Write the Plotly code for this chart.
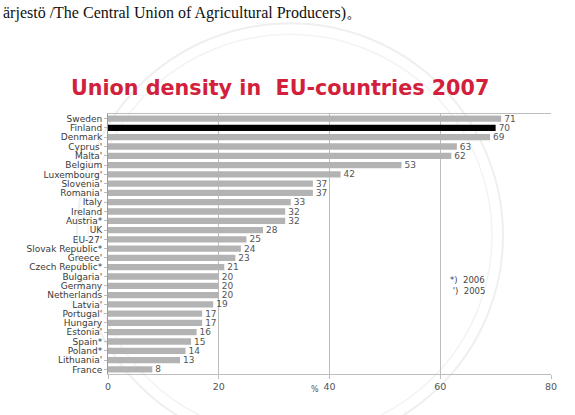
import plotly.graph_objects as go

countries = ["Sweden", "Finland", "Denmark", "Cyprus'", "Malta'", "Belgium", "Luxembourg'",
             "Slovenia'", "Romania'", "Italy", "Ireland", "Austria*", "UK", "EU-27'",
             "Slovak Republic*", "Greece'", "Czech Republic*", "Bulgaria'", "Germany",
             "Netherlands", "Latvia'", "Portugal'", "Hungary", "Estonia'", "Spain*",
             "Poland*", "Lithuania'", "France"]
density = [71, 70, 69, 63, 62, 53, 42, 37, 37, 33, 32, 32, 28, 25, 24, 23, 21, 20, 20, 20,
           19, 17, 17, 16, 15, 14, 13, 8]
highlight = "Finland"
x_ticks = [0, 20, 40, 60, 80]

colors = ["#000000" if c == highlight else "#b3b3b3" for c in countries]

fig = go.Figure(go.Bar(
    x=density, y=countries, orientation="h",
    marker=dict(color=colors, line=dict(width=0)),
    width=0.68,
    text=[str(v) for v in density], textposition="outside",
    constraintext="none",
    textfont=dict(family="DejaVu Sans", size=9, color="#555555"),
    cliponaxis=False,
))

fig.update_layout(
    width=575, height=415,
    margin=dict(l=108, r=24, t=114, b=41),
    paper_bgcolor="white", plot_bgcolor="white",
    showlegend=False,
    bargap=0.3,
    font=dict(family="DejaVu Sans", size=9, color="#444444"),
    xaxis=dict(range=[0, 80], tickvals=x_ticks, showgrid=True, gridcolor="#bdbdbd",
               gridwidth=1, zeroline=False, showline=True, linecolor="#bdbdbd",
               mirror=True, ticks="outside", ticklen=4, tickcolor="#bdbdbd",
               tickfont=dict(size=9.5, color="#555555")),
    yaxis=dict(autorange="reversed", categoryorder="array", categoryarray=countries,
               tickmode="array", tickvals=countries, ticktext=countries,
               showline=True, linecolor="#9a9a9a", ticks="outside", ticklen=3,
               tickcolor="#bdbdbd", showgrid=False, zeroline=False,
               tickfont=dict(size=9, color="#3a3a3a")),
    shapes=[
        dict(type="circle", xref="paper", yref="paper", layer="below",
             x0=(77 - 108) / 443, x1=(503 - 108) / 443,
             y0=(374 - 448) / 261, y1=(374 - 22) / 261,
             line=dict(color="#efefef", width=2)),
        dict(type="circle", xref="paper", yref="paper", layer="below",
             x0=(88 - 108) / 443, x1=(492 - 108) / 443,
             y0=(374 - 437) / 261, y1=(374 - 33) / 261,
             line=dict(color="#f3f3f3", width=1.5)),
    ],
    annotations=[
        dict(text="Union density in  EU-countries 2007", xref="paper", yref="paper",
             x=(280 - 108) / 443, y=(374 - 87) / 261, xanchor="center", yanchor="middle",
             showarrow=False,
             font=dict(family="DejaVu Sans", size=20.7, color="#d21f3c", weight="bold")),
        dict(text="ärjestö /The Central Union of Agricultural Producers)。", xref="paper", yref="paper",
             x=(1 - 108) / 443, y=(374 - 12) / 261, xanchor="left", yanchor="middle",
             showarrow=False,
             font=dict(family="Liberation Serif, Times New Roman", size=16, color="#111111")),
        dict(text="%", xref="paper", yref="paper",
             x=(315 - 108) / 443, y=(374 - 390) / 261, xanchor="center", yanchor="middle",
             showarrow=False, font=dict(size=8, color="#555555")),
        dict(text="*)  2006<br> ')  2005", xref="paper", yref="paper",
             x=(448 - 108) / 443, y=(374 - 285) / 261, xanchor="left", yanchor="middle",
             align="left", showarrow=False, font=dict(size=8.5, color="#444444")),
    ],
)

fig.write_html("out.html")
